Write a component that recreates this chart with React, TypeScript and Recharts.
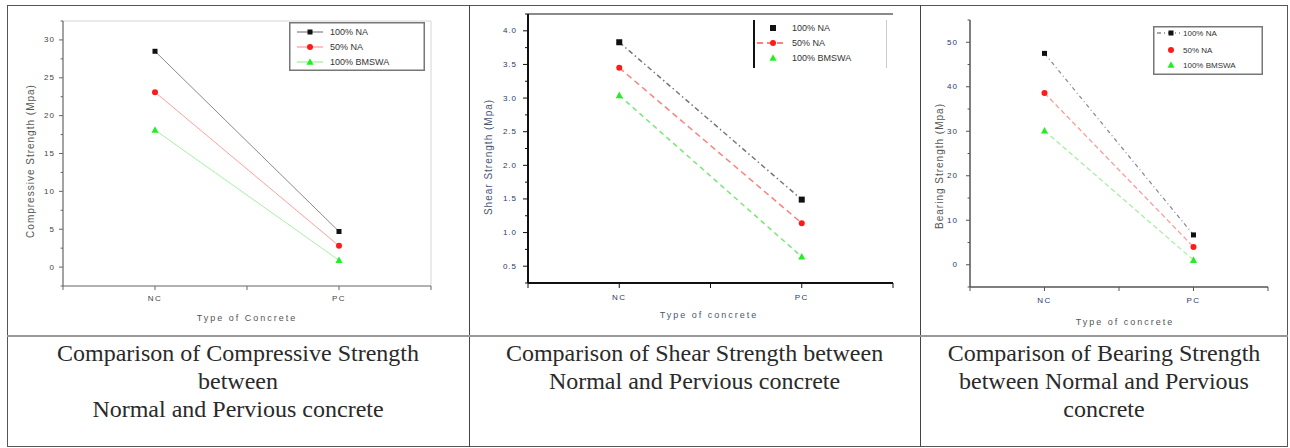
import React from 'react';
import { LineChart, Line, XAxis, YAxis, Legend, ReferenceLine } from 'recharts';

// categories and series
const categories = ['NC', 'PC'];
const seriesNames = ['100% NA', '50% NA', '100% BMSWA'];

const compressiveNA100 = [28.5, 4.7];
const compressiveNA50 = [23.1, 2.8];
const compressiveBMSWA = [18.1, 0.9];

const shearNA100 = [3.83, 1.49];
const shearNA50 = [3.45, 1.14];
const shearBMSWA = [3.04, 0.64];

const bearingNA100 = [47.5, 6.7];
const bearingNA50 = [38.6, 4.0];
const bearingBMSWA = [30.1, 1.05];

const compressiveTicks = [0, 5, 10, 15, 20, 25, 30];
const shearTicks = [0.5, 1.0, 1.5, 2.0, 2.5, 3.0, 3.5, 4.0];
const bearingTicks = [0, 10, 20, 30, 40, 50];
const xTicks = [0.5, 1, 1.5, 2, 2.5];

const captions = [
  ['Comparison of Compressive Strength', 'between', 'Normal and Pervious concrete'],
  ['Comparison of Shear Strength between', 'Normal and Pervious concrete'],
  ['Comparison of Bearing Strength', 'between Normal and Pervious', 'concrete'],
];

const SANS = "'Liberation Sans', Arial, sans-serif";

type Shape = 'square' | 'circle' | 'triangle';
interface Series {
  key: string;
  name: string;
  values: number[];
  line: string;
  width: number;
  dash?: string;
  marker: string;
  shape: Shape;
  size: number;
  legendLine: boolean;
}

interface Panel {
  left: number;
  top: number;
  width: number;
  height: number;
  margin: { top: number; right: number; left: number; bottom: number };
  yWidth: number;
  xHeight: number;
  domain: [number, number];
  majors: number[];
  decimals: number;
  axisColor: string;
  axisWidth: number;
  tickColor: string;
  tickLen: number;
  yGap: number;
  xGap: number;
  tickFont: number;
  yTitle: string;
  yTitlePos: [number, number];
  xTitle: string;
  xTitlePos: [number, number];
  titleColor: string;
  frame?: string;
  topLine?: string;
  series: Series[];
  legend: {
    x: number; y: number; w: number; h: number;
    rows: number[]; markerX: number; lineX: [number, number]; textX: number;
    font: number; box: 'full' | 'sides';
  };
}

const mk = (names: string[], values: number[][], lines: string[], widths: number[], dashes: (string | undefined)[], sizes: number[], legendLines: boolean[]): Series[] =>
  names.map((name, i) => ({
    key: 's' + i,
    name,
    values: values[i],
    line: lines[i],
    width: widths[i],
    dash: dashes[i],
    marker: ['#111111', '#ff1a1a', '#22ee22'][i],
    shape: (['square', 'circle', 'triangle'] as Shape[])[i],
    size: sizes[i],
    legendLine: legendLines[i],
  }));

const minorTicks = (majors: number[], domain: [number, number]) => {
  const step = majors[1] - majors[0];
  const all = [...majors];
  const first = majors[0] - step / 2;
  if (first >= domain[0]) all.push(first);
  majors.forEach((m) => {
    const v = m + step / 2;
    if (v <= domain[1]) all.push(v);
  });
  return all.sort((a, b) => a - b);
};

const panels: Panel[] = [
  {
    left: 8, top: 6, width: 461, height: 328,
    margin: { top: 15, right: 38, left: 0, bottom: 0 },
    yWidth: 55, xHeight: 48,
    domain: [-2.5, 32.5], majors: compressiveTicks, decimals: 0,
    axisColor: '#666', axisWidth: 1.2, tickColor: '#444', tickLen: 4, yGap: 8, xGap: 12, tickFont: 8,
    yTitle: 'Compressive Strength (Mpa)', yTitlePos: [22, 155],
    xTitle: 'Type of Concrete', xTitlePos: [239, 312], titleColor: '#555',
    frame: '#d6d6d6',
    series: mk(seriesNames, [compressiveNA100, compressiveNA50, compressiveBMSWA],
      ['#8a8a8a', '#ffa0a0', '#a4f2a4'], [1, 1, 1], [undefined, undefined, undefined], [5, 6, 7], [true, true, true]),
    legend: { x: 281, y: 16, w: 136, h: 49, rows: [10, 25, 40], markerX: 21, lineX: [8, 34], textX: 41, font: 9, box: 'full' },
  },
  {
    left: 470, top: 6, width: 450, height: 328,
    margin: { top: 8, right: 27, left: 0, bottom: 0 },
    yWidth: 58, xHeight: 51,
    domain: [0.25, 4.25], majors: shearTicks, decimals: 1,
    axisColor: '#111', axisWidth: 2, tickColor: '#2b3a67', tickLen: 5, yGap: 11, xGap: 14, tickFont: 8,
    yTitle: 'Shear Strength (Mpa)', yTitlePos: [18, 151],
    xTitle: 'Type of concrete', xTitlePos: [239, 309], titleColor: '#4a5676',
    topLine: '#8a8a8a',
    series: mk(seriesNames, [shearNA100, shearNA50, shearBMSWA],
      ['#777777', '#ff8080', '#74ea74'], [1.5, 1.5, 1.5], ['5 3 1.5 3', '6 4', '5 4'], [6, 6, 7], [false, true, false]),
    legend: { x: 283, y: 14, w: 134, h: 48, rows: [8, 23, 38], markerX: 20, lineX: [4, 32], textX: 39, font: 9, box: 'sides' },
  },
  {
    left: 921, top: 6, width: 367, height: 328,
    margin: { top: 14, right: 20, left: 0, bottom: 0 },
    yWidth: 49, xHeight: 47,
    domain: [-5, 55], majors: bearingTicks, decimals: 0,
    axisColor: '#555', axisWidth: 1.5, tickColor: '#2b3a67', tickLen: 4, yGap: 12, xGap: 13, tickFont: 8,
    yTitle: 'Bearing Strength (Mpa)', yTitlePos: [18, 160],
    xTitle: 'Type of concrete', xTitlePos: [204, 316], titleColor: '#555',
    series: mk(seriesNames, [bearingNA100, bearingNA50, bearingBMSWA],
      ['#888888', '#ff9595', '#a5eea5'], [1.2, 1.2, 1.2], ['4 3 1 3', '5 3', '5 3'], [5, 6, 7], [true, false, false]),
    legend: { x: 232, y: 20, w: 110, h: 49, rows: [7, 24, 39], markerX: 18, lineX: [4, 27], textX: 30, font: 8, box: 'full' },
  },
];

function Marker({ shape, x, y, size, color }: { shape: Shape; x: number; y: number; size: number; color: string }) {
  if (shape === 'square') return <rect x={x - size / 2} y={y - size / 2} width={size} height={size} fill={color} />;
  if (shape === 'circle') return <circle cx={x} cy={y} r={size / 2} fill={color} />;
  return (
    <polygon
      points={`${x},${y - size * 0.55} ${x - size / 2},${y + size * 0.4} ${x + size / 2},${y + size * 0.4}`}
      fill={color}
    />
  );
}

function LegendBox({ p }: { p: Panel }) {
  const L = p.legend;
  return (
    <svg width={L.w} height={L.h} style={{ display: 'block' }}>
      {L.box === 'full' ? (
        <rect x={0.75} y={0.75} width={L.w - 1.5} height={L.h - 1.5} fill="white" stroke="#777" strokeWidth={1.5} />
      ) : (
        <g>
          <line x1={1} x2={1} y1={0} y2={L.h} stroke="#111" strokeWidth={2} />
          <line x1={L.w - 0.5} x2={L.w - 0.5} y1={0} y2={L.h} stroke="#ccc" strokeWidth={1} />
        </g>
      )}
      {p.series.map((s, i) => (
        <g key={s.key}>
          {s.legendLine && (
            <line x1={L.lineX[0]} x2={L.lineX[1]} y1={L.rows[i]} y2={L.rows[i]} stroke={s.line} strokeWidth={s.width + 0.3} strokeDasharray={s.dash} />
          )}
          <Marker shape={s.shape} x={L.markerX} y={L.rows[i]} size={s.size} color={s.marker} />
          <text x={L.textX} y={L.rows[i]} dominantBaseline="central" fontSize={L.font} fontFamily={SANS} fill="#333">
            {s.name}
          </text>
        </g>
      ))}
    </svg>
  );
}

function YTitle({ p }: { p: Panel }) {
  const [x, y] = p.yTitlePos;
  return (
    <text x={x} y={y} transform={`rotate(-90 ${x} ${y})`} textAnchor="middle" dominantBaseline="central"
      fontSize={10} letterSpacing={1} fontFamily={SANS} fill={p.titleColor}>
      {p.yTitle}
    </text>
  );
}

function XTitle({ p }: { p: Panel }) {
  const [x, y] = p.xTitlePos;
  return (
    <text x={x} y={y} textAnchor="middle" dominantBaseline="central"
      fontSize={9} letterSpacing={2} fontFamily={SANS} fill={p.titleColor}>
      {p.xTitle}
    </text>
  );
}

function Chart({ p }: { p: Panel }) {
  const data = categories.map((c, i) => {
    const row: Record<string, number | string> = { x: i + 1, name: c };
    p.series.forEach((s) => (row[s.key] = s.values[i]));
    return row;
  });

  const yTick = (props: any) => {
    const { x, y, payload } = props;
    const major = p.majors.includes(payload.value);
    return (
      <g>
        <line x1={x - (major ? p.tickLen : p.tickLen * 0.6)} x2={x} y1={y} y2={y} stroke={p.axisColor} strokeWidth={1} />
        {major && (
          <text x={x - p.yGap} y={y} textAnchor="end" dominantBaseline="central" fontSize={p.tickFont}
            letterSpacing={1} fontFamily={SANS} fill={p.tickColor}>
            {payload.value.toFixed(p.decimals)}
          </text>
        )}
      </g>
    );
  };

  const xTick = (props: any) => {
    const { x, y, payload } = props;
    const idx = payload.value - 1;
    const label = Number.isInteger(payload.value) ? categories[idx] : '';
    return (
      <g>
        <line x1={x} x2={x} y1={y} y2={y + p.tickLen} stroke={p.axisColor} strokeWidth={1} />
        {label && (
          <text x={x} y={y + p.xGap} textAnchor="middle" dominantBaseline="central" fontSize={p.tickFont}
            letterSpacing={1.5} fontFamily={SANS} fill={p.tickColor}>
            {label}
          </text>
        )}
      </g>
    );
  };

  return (
    <div style={{ position: 'absolute', left: p.left, top: p.top }}>
      <LineChart width={p.width} height={p.height} data={data} margin={p.margin}>
        <XAxis
          dataKey="x"
          type="number"
          domain={[xTicks[0], xTicks[xTicks.length - 1]]}
          ticks={xTicks}
          interval={0}
          height={p.xHeight}
          tickSize={0}
          tickMargin={0}
          tickLine={false}
          tick={xTick}
          axisLine={{ stroke: p.axisColor, strokeWidth: p.axisWidth }}
          label={<XTitle p={p} />}
        />
        <YAxis
          type="number"
          domain={p.domain}
          ticks={minorTicks(p.majors, p.domain)}
          interval={0}
          allowDataOverflow
          width={p.yWidth}
          tickSize={0}
          tickMargin={0}
          tickLine={false}
          tick={yTick}
          axisLine={{ stroke: p.axisColor, strokeWidth: p.axisWidth }}
          label={<YTitle p={p} />}
        />
        {p.frame && <ReferenceLine y={p.domain[1]} stroke={p.frame} strokeWidth={1} />}
        {p.frame && <ReferenceLine x={xTicks[xTicks.length - 1]} stroke={p.frame} strokeWidth={1} />}
        {p.topLine && <ReferenceLine y={p.domain[1]} stroke={p.topLine} strokeWidth={2} />}
        <Legend
          layout="vertical"
          align="center"
          verticalAlign="middle"
          wrapperStyle={{ left: p.legend.x, top: p.legend.y, width: p.legend.w, height: p.legend.h }}
          content={() => <LegendBox p={p} />}
        />
        {p.series.map((s) => (
          <Line
            key={s.key}
            type="linear"
            dataKey={s.key}
            name={s.name}
            stroke={s.line}
            strokeWidth={s.width}
            strokeDasharray={s.dash}
            dot={(d: any) => (
              <Marker key={`${s.key}-${d.index}`} shape={s.shape} x={d.cx} y={d.cy} size={s.size} color={s.marker} />
            )}
            activeDot={false}
            isAnimationActive={false}
          />
        ))}
      </LineChart>
    </div>
  );
}

const cells = [
  { left: 7, width: 462 },
  { left: 469, width: 451 },
  { left: 920, width: 368 },
];

export default function App() {
  return (
    <div style={{ position: 'absolute', left: 0, top: 0, width: 1290, height: 448, background: '#fff', overflow: 'hidden' }}>
      <div style={{ position: 'absolute', left: 7, top: 5, width: 1281, height: 442, border: '1px solid #555', boxSizing: 'border-box' }} />
      <div style={{ position: 'absolute', left: 469, top: 5, width: 1, height: 442, background: '#444' }} />
      <div style={{ position: 'absolute', left: 920, top: 5, width: 1, height: 442, background: '#444' }} />
      {panels.map((p, i) => (
        <Chart key={i} p={p} />
      ))}
      <div style={{ position: 'absolute', left: 7, top: 335, width: 1281, height: 2, background: '#999' }} />
      {captions.map((lines, i) => (
        <div
          key={i}
          style={{
            position: 'absolute',
            left: cells[i].left,
            width: cells[i].width,
            top: 339,
            textAlign: 'center',
            fontFamily: "'Liberation Serif', 'Times New Roman', serif",
            fontSize: 24,
            lineHeight: '28px',
            color: '#2a2a2a',
          }}
        >
          {lines.map((l, j) => (
            <div key={j}>{l}</div>
          ))}
        </div>
      ))}
    </div>
  );
}
